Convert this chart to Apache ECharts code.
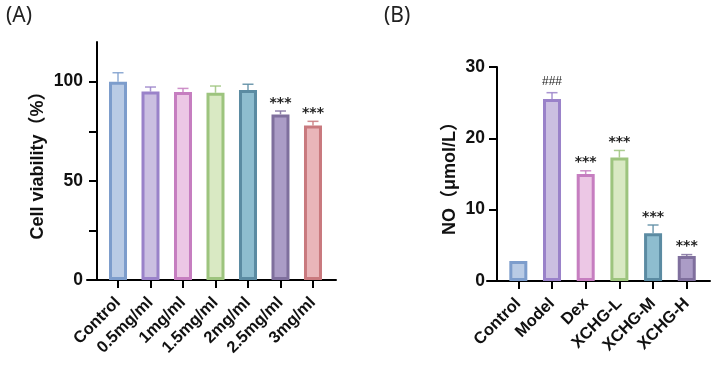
<!DOCTYPE html>
<html>
<head>
<meta charset="utf-8">
<script src="https://cdn.jsdelivr.net/npm/echarts@6/dist/echarts.min.js"></script>
<style>
  html, body { margin: 0; padding: 0; background: #fff; }
  #chart { width: 714px; height: 365px; }
</style>
</head>
<body>
<div id="chart"></div>
<script>
// panel A: cell viability
const catsA = ['Control', '0.5mg/ml', '1mg/ml', '1.5mg/ml', '2mg/ml', '2.5mg/ml', '3mg/ml'];
const viability = [100, 95, 94.8, 94.4, 95.8, 83.5, 77.9];
const viabilityErr = [4.5, 2.3, 1.8, 3.4, 2.9, 1.7, 2.1];
const marksA = ['', '', '', '', '', '***', '***'];
const ticksA = [0, 25, 50, 75, 100];
const labelsA = [0, 50, 100];

// panel B: NO release
const catsB = ['Control', 'Model', 'Dex', 'XCHG-L', 'XCHG-M', 'XCHG-H'];
const noLevel = [2.8, 25.5, 15.0, 17.3, 6.7, 3.5];
const noErr = [0, 0.9, 0.45, 1.0, 1.15, 0.2];
const marksB = ['', '###', '***', '***', '***', '***'];
const ticksB = [0, 10, 20, 30];

const fillsA = ['#b9cbe5', '#cbbfe1', '#ecc7e5', '#d9e9c3', '#8ebdcf', '#ab9cc6', '#e9b5b9'];
const bordersA = ['#7d9dcc', '#9a82c9', '#c67ec0', '#9dc47e', '#5b8ba2', '#7f6f9d', '#c9797e'];
const fillsB = ['#b9cbe5', '#cbbfe1', '#ecc7e5', '#d9e9c3', '#8ebdcf', '#ab9cc6'];
const bordersB = ['#7d9dcc', '#9a82c9', '#c67ec0', '#9dc47e', '#5b8ba2', '#7f6f9d'];

const font = 'Liberation Sans, Arial, Noto Sans CJK SC, sans-serif';

const chart = echarts.init(document.getElementById('chart'));

function barData(vals, fills, borders) {
  return vals.map((v, i) => ({
    value: [i, v],
    itemStyle: { color: fills[i], borderColor: borders[i] },
  }));
}

function errData(vals, errs, marks) {
  return vals.map((v, i) => [i, v, errs[i], marks[i]]);
}

function errRenderer(borders) {
  return (params, api) => {
    const i = params.dataIndex;
    const x = api.value(0);
    const v = api.value(1);
    const e = api.value(2);
    const mark = api.value(3);
    const p0 = api.coord([x, v]);
    const p1 = api.coord([x, v + e]);
    const children = [];
    const style = { stroke: borders[i], lineWidth: 1.5, opacity: 0.85 };
    if (e > 0) {
      children.push({ type: 'line', shape: { x1: p0[0], y1: p0[1], x2: p1[0], y2: p1[1] }, style });
      children.push({ type: 'line', shape: { x1: p1[0] - 5.5, y1: p1[1], x2: p1[0] + 5.5, y2: p1[1] }, style });
    }
    if (mark) {
      const hash = mark === '###';
      children.push({
        type: 'text',
        x: p1[0],
        y: p1[1] - (hash ? 5 : 1),
        style: {
          text: mark,
          fill: '#222',
          font: hash ? '12px Liberation Sans, Arial' : 'bold 14px DejaVu Sans',
          align: 'center',
          verticalAlign: 'bottom',
        },
      });
    }
    return { type: 'group', children };
  };
}

const axisLine = { lineStyle: { color: '#000', width: 2 } };
const tickStyle = { lineStyle: { color: '#000', width: 2 } };
const labelFont = { fontFamily: font, fontWeight: 'bold', color: '#111' };

const option = {
  animation: false,
  backgroundColor: '#fff',
  title: [
    { text: '(A)', left: 1, top: 1, textStyle: { fontFamily: 'Noto Sans', fontWeight: 'normal', fontSize: 21, color: '#222' } },
    { text: '(B)', left: 379, top: 1, textStyle: { fontFamily: 'Noto Sans', fontWeight: 'normal', fontSize: 21, color: '#222' } },
  ],
  grid: [
    { left: 87, top: 42, width: 249, height: 238 },
    { left: 487, top: 67, width: 223, height: 214 },
  ],
  xAxis: [
    {
      type: 'value', gridIndex: 0, min: -0.954, max: 6.708,
      axisLine: { ...axisLine, onZero: false },
      axisTick: { ...tickStyle, length: 8, customValues: catsA.map((c, i) => i) },
      splitLine: { show: false },
      axisLabel: {
        customValues: catsA.map((c, i) => i),
        formatter: (v) => catsA[v],
        rotate: 45, margin: 20, fontSize: 16.5, ...labelFont,
      },
    },
    {
      type: 'value', gridIndex: 1, min: -0.93, max: 5.69,
      axisLine: { ...axisLine, onZero: false },
      axisTick: { ...tickStyle, length: 8, customValues: catsB.map((c, i) => i) },
      splitLine: { show: false },
      axisLabel: {
        customValues: catsB.map((c, i) => i),
        formatter: (v) => catsB[v],
        rotate: 45, margin: 20, fontSize: 16.5, ...labelFont,
      },
    },
  ],
  yAxis: [
    {
      type: 'value', gridIndex: 0, min: 0, max: 120, offset: -10,
      name: 'Cell viability（%）', nameLocation: 'middle', nameRotate: 90, nameGap: 50,
      nameTextStyle: { ...labelFont, fontSize: 18 },
      axisLine: { ...axisLine, show: true, onZero: false },
      axisTick: { ...tickStyle, show: true, length: 8, customValues: ticksA },
      splitLine: { show: false },
      axisLabel: { customValues: labelsA, margin: 14, fontSize: 17.5, ...labelFont },
    },
    {
      type: 'value', gridIndex: 1, min: 0, max: 30, interval: 10, offset: -10,
      name: 'NO（μmol/L）', nameLocation: 'middle', nameRotate: 90, nameGap: 38,
      nameTextStyle: { ...labelFont, fontSize: 18 },
      axisLine: { ...axisLine, show: true, onZero: false },
      axisTick: { ...tickStyle, show: true, length: 8, customValues: ticksB },
      splitLine: { show: false },
      axisLabel: { customValues: ticksB, margin: 12, fontSize: 17.5, ...labelFont },
    },
  ],
  series: [
    {
      type: 'bar', xAxisIndex: 0, yAxisIndex: 0,
      barWidth: 18, itemStyle: { borderWidth: 3 },
      data: barData(viability, fillsA, bordersA),
    },
    {
      type: 'custom', xAxisIndex: 0, yAxisIndex: 0, z: 3,
      renderItem: errRenderer(bordersA),
      data: errData(viability, viabilityErr, marksA),
    },
    {
      type: 'bar', xAxisIndex: 1, yAxisIndex: 1,
      barWidth: 18, itemStyle: { borderWidth: 3 },
      data: barData(noLevel, fillsB, bordersB),
    },
    {
      type: 'custom', xAxisIndex: 1, yAxisIndex: 1, z: 3,
      renderItem: errRenderer(bordersB),
      data: errData(noLevel, noErr, marksB),
    },
  ],
};

chart.setOption(option);
</script>
</body>
</html>
